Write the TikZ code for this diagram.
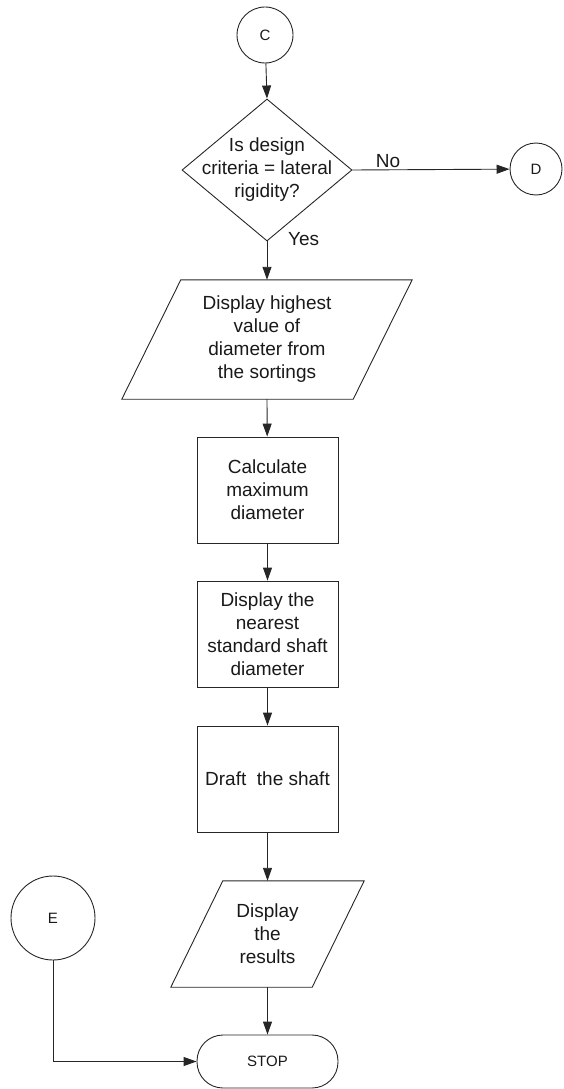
\documentclass[tikz,border=0pt]{standalone}
\usepackage{fontspec}
\setmainfont{Liberation Sans}
\usetikzlibrary{arrows.meta,shapes.geometric,calc}

\tikzset{
  line/.style={draw=black!85, line width=0.9pt},
  flow/.style={line, -{Triangle[length=13pt,width=9pt]}},
  txt/.style={font=\fontsize{19}{23}\selectfont, text=black!90, align=center, inner sep=0pt},
  small/.style={font=\fontsize{15}{18}\selectfont, text=black!90},
  conn/.style={line, circle, small, inner sep=0pt},
  decision/.style={line, diamond, minimum width=170pt, minimum height=142pt, inner sep=0pt},
  stepbox/.style={line, rectangle, minimum width=141pt, minimum height=106pt, txt},
  iobox/.style={rectangle, minimum height=#1, inner sep=0pt},
  terminal/.style={line, rectangle, rounded corners=26pt, minimum width=141pt, minimum height=53pt, small},
}

\begin{document}
\begin{tikzpicture}[x=1pt, y=-1pt]
\useasboundingbox (0,0) rectangle (563,1089);

% connectors
\node[conn, minimum size=56pt] (C) at (265,35) {C};
\node[conn, minimum size=52pt] (D) at (536,169) {D};
\node[conn, minimum size=84pt] (E) at (53,918) {E};

% decision
\node[decision] (dec) at (267,170) {};
\node[txt] at (dec.center) {Is design\\criteria = lateral\\rigidity?};

% first input/output block
\node[iobox=119pt, minimum width=231pt, txt] (disp1) at (267,339.5)
  {Display highest\\value of\\diameter from\\the sortings};
\draw[line] ($(disp1.north west)+(29.5,0)$) -- ($(disp1.north east)+(29.5,0)$)
  -- ($(disp1.south east)+(-29.5,0)$) -- ($(disp1.south west)+(-29.5,0)$) -- cycle;

% process blocks
\node[stepbox] (calc) at (267.5,490) {Calculate\\maximum\\diameter};
\node[stepbox] (std) at (267.5,634) {Display the\\nearest\\standard shaft\\diameter};
\node[stepbox] (draft) at (267.5,779) {Draft\ \ the shaft};

% second input/output block
\node[iobox=106pt, minimum width=141pt, txt] (disp2) at (267.5,934) {Display\\the\\results};
\draw[line] ($(disp2.north west)+(26,0)$) -- ($(disp2.north east)+(26,0)$)
  -- ($(disp2.south east)+(-26,0)$) -- ($(disp2.south west)+(-26,0)$) -- cycle;

% terminal
\node[terminal] (stop) at (267.5,1061.5) {STOP};

% flow lines
\draw[flow] (C) -- (dec.north);
\draw[flow] (dec.east) -- (D);
\draw[flow] (dec.south) -- (disp1.north);
\draw[flow] (disp1.south) -- (calc);
\draw[flow] (calc) -- (std);
\draw[flow] (std) -- (draft);
\draw[flow] (draft) -- (disp2.north);
\draw[flow] (disp2.south) -- (stop);
\draw[flow] (E) |- (stop);

% branch labels
\node[txt, anchor=base] at (388,167) {No};
\node[txt, anchor=base west] at (288,245) {Yes};
\end{tikzpicture}
\end{document}
